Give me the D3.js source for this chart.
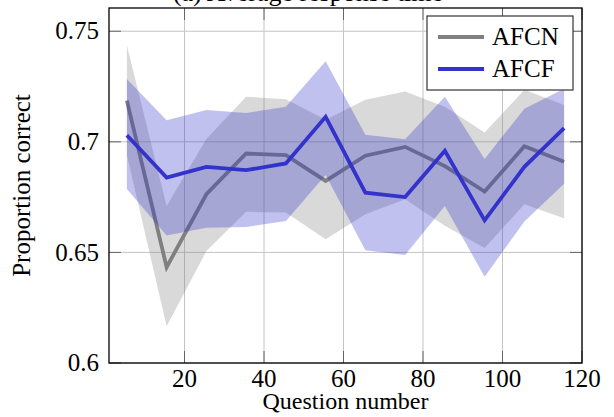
<!DOCTYPE html>
<html>
<head>
<meta charset="utf-8">
<script src="https://cdn.jsdelivr.net/npm/d3@7"></script>
<style>
  body { margin: 0; background: #fff; }
  text { font-family: "Liberation Serif", "Times New Roman", serif; fill: #000; }
</style>
</head>
<body>
<div id="chart"></div>
<script>
// Question number bins (midpoints)
var questions = [5.5, 15.5, 25.5, 35.5, 45.5, 55.5, 65.5, 75.5, 85.5, 95.5, 105.5, 115.5];

// AFCN mean and band
var afcn      = [0.7186, 0.6433, 0.6763, 0.6947, 0.6940, 0.6823, 0.6937, 0.6977, 0.6890, 0.6775, 0.6980, 0.6910];
var afcnUpper = [0.7435, 0.6710, 0.7013, 0.7204, 0.7192, 0.7100, 0.7190, 0.7227, 0.7159, 0.7042, 0.7235, 0.7166];
var afcnLower = [0.6940, 0.6166, 0.6506, 0.6684, 0.6680, 0.6559, 0.6672, 0.6740, 0.6620, 0.6520, 0.6718, 0.6654];

// AFCF mean and band
var afcf      = [0.7030, 0.6838, 0.6887, 0.6872, 0.6902, 0.7113, 0.6770, 0.6750, 0.6959, 0.6645, 0.6887, 0.7062];
var afcfUpper = [0.7284, 0.7098, 0.7144, 0.7130, 0.7159, 0.7364, 0.7032, 0.7012, 0.7204, 0.6922, 0.7150, 0.7240];
var afcfLower = [0.6787, 0.6577, 0.6612, 0.6615, 0.6642, 0.6850, 0.6510, 0.6488, 0.6710, 0.6390, 0.6640, 0.6810];

var xTickValues = [20, 40, 60, 80, 100, 120];
var yTickValues = [0.6, 0.65, 0.7, 0.75];
var yTickLabels = ["0.6", "0.65", "0.7", "0.75"];

var width = 614;
var height = 417;
// plot box edges ("top" is reserved on window, so prefixed names)
var pLeft = 109, pRight = 582, pTop = 8, pBottom = 363;

var svg = d3.select("#chart")
    .append("svg")
        .attr("width", width)
        .attr("height", height);

var x = d3.scaleLinear().domain([1, 120]).range([pLeft, pRight]);
var y = d3.scaleLinear().domain([0.6, 0.7605]).range([pBottom, pTop]);

svg.append("defs").append("clipPath")
    .attr("id", "plotClip")
    .append("rect")
        .attr("x", pLeft).attr("y", pTop)
        .attr("width", pRight - pLeft).attr("height", pBottom - pTop);

// grid
svg.append("g")
    .selectAll("line")
    .data(xTickValues)
    .enter().append("line")
        .attr("x1", d => x(d)).attr("x2", d => x(d))
        .attr("y1", pTop).attr("y2", pBottom)
        .style("stroke", "#c4c4c4")
        .style("stroke-width", 1);

svg.append("g")
    .selectAll("line")
    .data(yTickValues)
    .enter().append("line")
        .attr("x1", pLeft).attr("x2", pRight)
        .attr("y1", d => y(d)).attr("y2", d => y(d))
        .style("stroke", "#c4c4c4")
        .style("stroke-width", 1);

var plot = svg.append("g").attr("clip-path", "url(#plotClip)");

function band(upper, lower) {
    return d3.area()
        .x((d, i) => x(questions[i]))
        .y0((d, i) => y(lower[i]))
        .y1((d, i) => y(upper[i]))(questions);
}
function meanLine(values) {
    return d3.line()
        .x((d, i) => x(questions[i]))
        .y((d, i) => y(values[i]))(questions);
}

// AFCN first, AFCF drawn over it
plot.append("path")
    .attr("d", band(afcnUpper, afcnLower))
    .style("fill", "#808080")
    .style("fill-opacity", 0.3);

plot.append("path")
    .attr("d", meanLine(afcn))
    .style("fill", "none")
    .style("stroke", "#808080")
    .style("stroke-width", 3.8)
    .style("stroke-linejoin", "miter");

plot.append("path")
    .attr("d", band(afcfUpper, afcfLower))
    .style("fill", "#3333cc")
    .style("fill-opacity", 0.3);

plot.append("path")
    .attr("d", meanLine(afcf))
    .style("fill", "none")
    .style("stroke", "#3333cc")
    .style("stroke-width", 3.8)
    .style("stroke-linejoin", "miter");

// ticks inside the frame, on all four sides
var tickLen = 12;
var ticks = svg.append("g").style("stroke", "#666").style("stroke-width", 1);
xTickValues.forEach(function(d) {
    ticks.append("line").attr("x1", x(d)).attr("x2", x(d)).attr("y1", pBottom).attr("y2", pBottom - tickLen);
    ticks.append("line").attr("x1", x(d)).attr("x2", x(d)).attr("y1", pTop).attr("y2", pTop + tickLen);
});
yTickValues.forEach(function(d) {
    ticks.append("line").attr("x1", pLeft).attr("x2", pLeft + tickLen).attr("y1", y(d)).attr("y2", y(d));
    ticks.append("line").attr("x1", pRight).attr("x2", pRight - tickLen).attr("y1", y(d)).attr("y2", y(d));
});

// frame
svg.append("rect")
    .attr("x", pLeft).attr("y", pTop)
    .attr("width", pRight - pLeft).attr("height", pBottom - pTop)
    .style("fill", "none")
    .style("stroke", "#000")
    .style("stroke-width", 1.3);

// tick labels
svg.append("g")
    .selectAll("text")
    .data(xTickValues)
    .enter().append("text")
        .attr("x", d => x(d))
        .attr("y", 387)
        .attr("text-anchor", "middle")
        .style("font-size", "25px")
        .text(d => d);

svg.append("g")
    .selectAll("text")
    .data(yTickValues)
    .enter().append("text")
        .attr("x", pLeft - 10)
        .attr("y", d => y(d))
        .attr("dy", "0.33em")
        .attr("text-anchor", "end")
        .style("font-size", "25px")
        .text((d, i) => yTickLabels[i]);

// axis labels and title
svg.append("text")
    .attr("x", (pLeft + pRight) / 2)
    .attr("y", 409)
    .attr("text-anchor", "middle")
    .style("font-size", "24px")
    .text("Question number");

svg.append("text")
    .attr("transform", "translate(30," + ((pTop + pBottom) / 2) + ") rotate(-90)")
    .attr("text-anchor", "middle")
    .style("font-size", "25px")
    .text("Proportion correct");

svg.append("text")
    .attr("x", 308)
    .attr("y", 1)
    .attr("text-anchor", "middle")
    .style("font-size", "26px")
    .text("(a) Average response time");

// legend
var legend = svg.append("g");
legend.append("rect")
    .attr("x", 427).attr("y", 16)
    .attr("width", 146).attr("height", 74)
    .style("fill", "#fff")
    .style("stroke", "#333")
    .style("stroke-width", 1.2);

var legendNames = ["AFCN", "AFCF"];
var legendColors = ["#808080", "#3333cc"];
legendNames.forEach(function(name, i) {
    var ly = 37 + i * 32;
    legend.append("line")
        .attr("x1", 438).attr("x2", 484)
        .attr("y1", ly).attr("y2", ly)
        .style("stroke", legendColors[i])
        .style("stroke-width", 4);
    legend.append("text")
        .attr("x", 492)
        .attr("y", ly)
        .attr("dy", "0.33em")
        .style("font-size", "25px")
        .text(name);
});
</script>
</body>
</html>
